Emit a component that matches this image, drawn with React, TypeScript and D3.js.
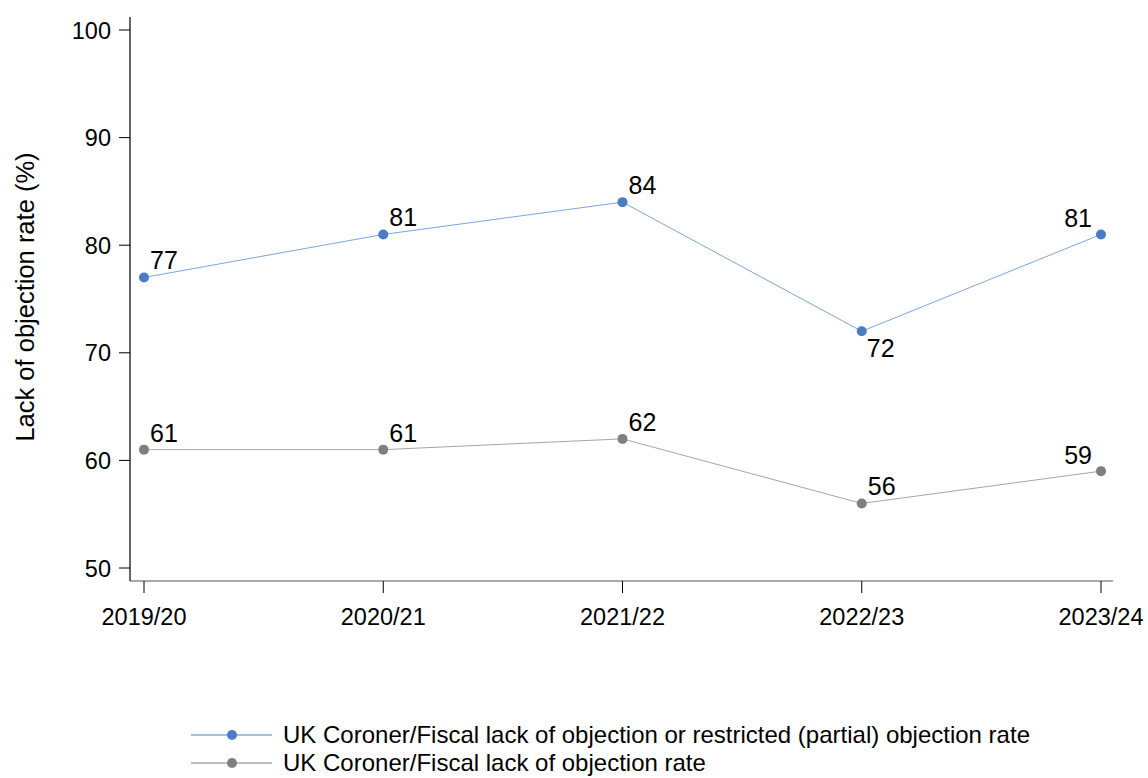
import { useRef, useEffect } from 'react'
import * as d3 from 'd3'

const years = ['2019/20', '2020/21', '2021/22', '2022/23', '2023/24']
const partialRate = [77, 81, 84, 72, 81]
const lackRate = [61, 61, 62, 56, 59]
const yTicks = [50, 60, 70, 80, 90, 100]

// label placement per point: 'ur' up-right, 'ul' up-left, 'dr' down-right
const partialPlace = ['ur', 'ur', 'ur', 'dr', 'ul']
const lackPlace = ['ur', 'ur', 'ur', 'ur', 'ul']

const seriesList = [
  {
    name: 'UK Coroner/Fiscal lack of objection or restricted (partial) objection rate',
    values: partialRate,
    place: partialPlace,
    dot: '#4a7cc4',
    line: '#7ea5da',
  },
  {
    name: 'UK Coroner/Fiscal lack of objection rate',
    values: lackRate,
    place: lackPlace,
    dot: '#7f7f7f',
    line: '#a6a6a6',
  },
]

const FONT = 'Arial, "Liberation Sans", sans-serif'

export default function App() {
  const ref = useRef<SVGSVGElement>(null)

  useEffect(() => {
    if (!ref.current) return
    const svg = d3.select(ref.current)
    svg.selectAll('*').remove()

    const x = d3.scalePoint<string>().domain(years).range([144, 1101])
    const y = d3.scaleLinear().domain([50, 100]).range([568, 30])

    const axisLeft = 130
    const axisBottom = 581

    // Y axis
    svg
      .append('line')
      .attr('x1', axisLeft)
      .attr('x2', axisLeft)
      .attr('y1', 17)
      .attr('y2', axisBottom)
      .attr('stroke', '#000')
      .attr('stroke-width', 1.2)

    const gy = svg.append('g')
    yTicks.forEach((t) => {
      gy.append('line')
        .attr('x1', axisLeft - 11)
        .attr('x2', axisLeft)
        .attr('y1', y(t))
        .attr('y2', y(t))
        .attr('stroke', '#000')
        .attr('stroke-width', 1)
      gy.append('text')
        .attr('x', axisLeft - 19)
        .attr('y', y(t) + 8.5)
        .attr('text-anchor', 'end')
        .attr('font-family', FONT)
        .attr('font-size', 23.5)
        .attr('fill', '#000')
        .text(t)
    })

    // X axis
    svg
      .append('line')
      .attr('x1', axisLeft)
      .attr('x2', 1113)
      .attr('y1', axisBottom)
      .attr('y2', axisBottom)
      .attr('stroke', '#555')
      .attr('stroke-width', 1.2)

    const gx = svg.append('g')
    years.forEach((yr) => {
      const px = x(yr) as number
      gx.append('line')
        .attr('x1', px)
        .attr('x2', px)
        .attr('y1', axisBottom)
        .attr('y2', axisBottom + 12)
        .attr('stroke', '#000')
        .attr('stroke-width', 1)
      gx.append('text')
        .attr('x', px)
        .attr('y', 625)
        .attr('text-anchor', 'middle')
        .attr('font-family', FONT)
        .attr('font-size', 23.5)
        .attr('fill', '#000')
        .text(yr)
    })

    // Y axis title
    svg
      .append('text')
      .attr('transform', `translate(34,297) rotate(-90)`)
      .attr('text-anchor', 'middle')
      .attr('font-family', FONT)
      .attr('font-size', 25.5)
      .attr('fill', '#000')
      .text('Lack of objection rate (%)')

    // Series
    const line = d3
      .line<number>()
      .x((_, i) => x(years[i]) as number)
      .y((d) => y(d))

    seriesList.forEach((s) => {
      svg
        .append('path')
        .datum(s.values)
        .attr('fill', 'none')
        .attr('stroke', s.line)
        .attr('stroke-width', 1)
        .attr('d', line)

      s.values.forEach((v, i) => {
        const px = x(years[i]) as number
        const py = y(v)
        svg
          .append('circle')
          .attr('cx', px)
          .attr('cy', py)
          .attr('r', 5)
          .attr('fill', s.dot)

        const p = s.place[i]
        const lbl = svg
          .append('text')
          .attr('font-family', FONT)
          .attr('font-size', 25)
          .attr('fill', '#000')
          .text(v)
        if (p === 'ur') {
          lbl.attr('x', px + 6).attr('y', py - 8)
        } else if (p === 'ul') {
          lbl.attr('x', px - 9).attr('y', py - 7).attr('text-anchor', 'end')
        } else {
          lbl.attr('x', px + 5).attr('y', py + 26)
        }
      })
    })

    // Legend
    seriesList.forEach((s, i) => {
      const ly = 735 + i * 28
      svg
        .append('line')
        .attr('x1', 191)
        .attr('x2', 272)
        .attr('y1', ly)
        .attr('y2', ly)
        .attr('stroke', s.dot)
        .attr('stroke-width', 1.2)
      svg
        .append('circle')
        .attr('cx', 232)
        .attr('cy', ly)
        .attr('r', 5)
        .attr('fill', s.dot)
      svg
        .append('text')
        .attr('x', 283)
        .attr('y', ly + 8)
        .attr('font-family', FONT)
        .attr('font-size', 24)
        .attr('fill', '#000')
        .text(s.name)
    })
  }, [])

  return (
    <svg
      ref={ref}
      width={1148}
      height={778}
      style={{ position: 'absolute', left: 0, top: 0, background: '#fff' }}
    />
  )
}
